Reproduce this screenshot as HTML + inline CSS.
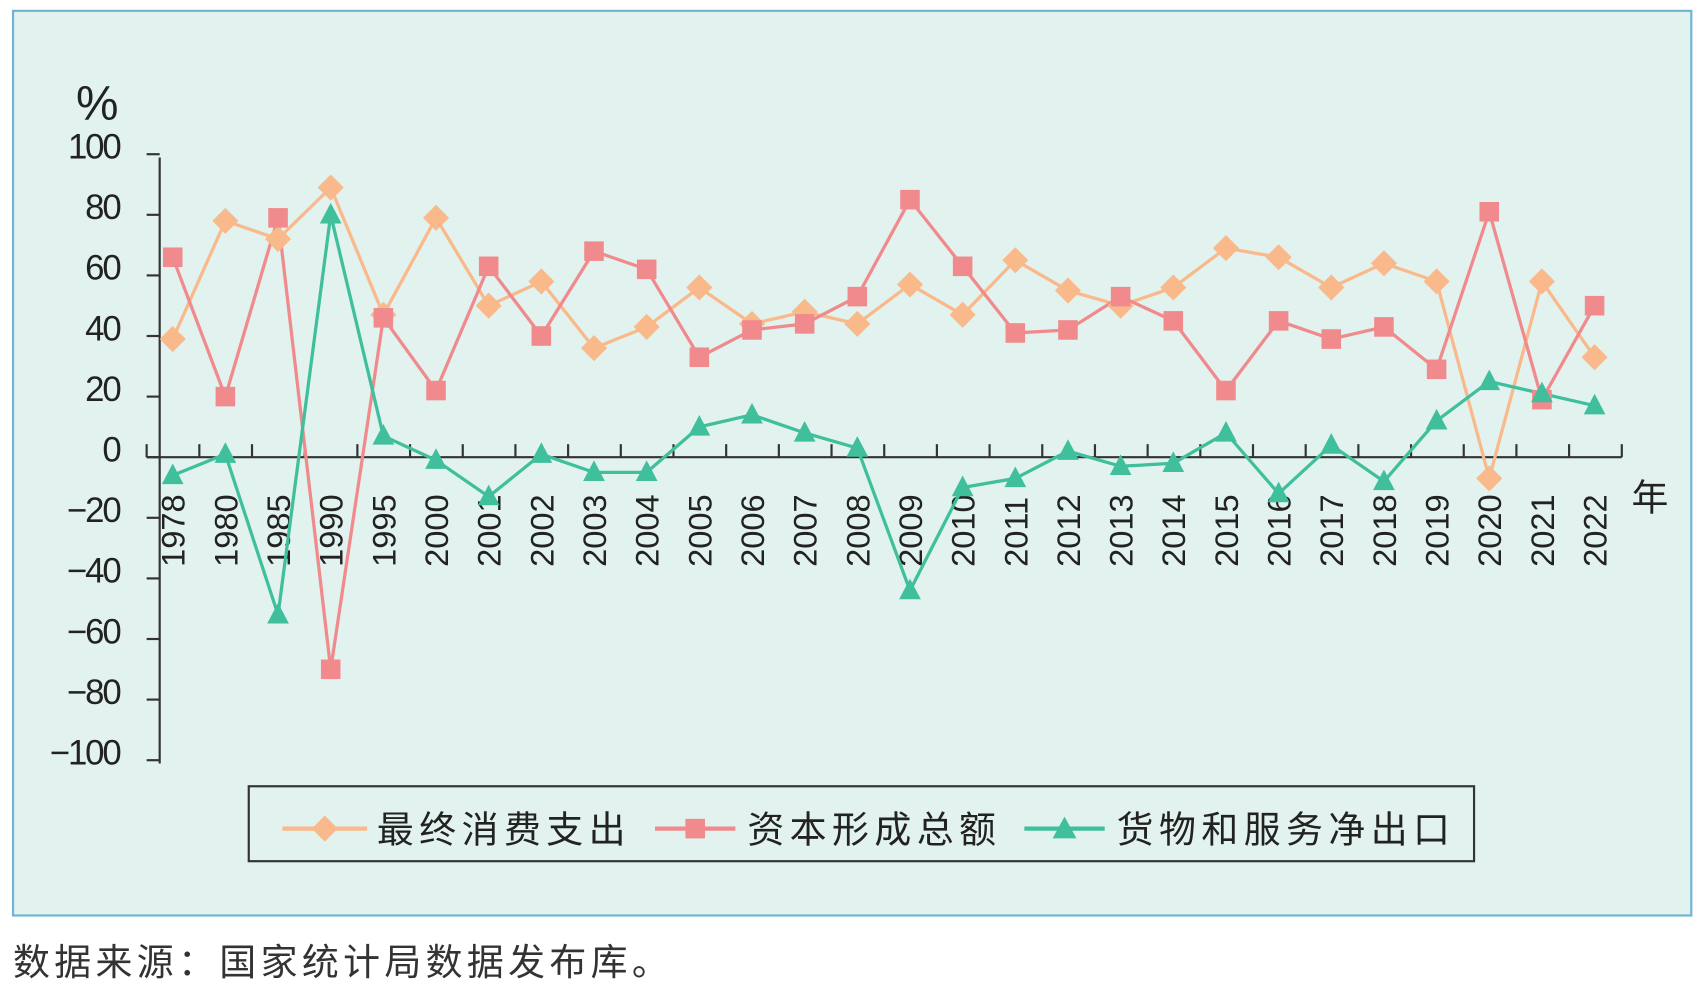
<!DOCTYPE html>
<html><head><meta charset="utf-8"><style>
html,body{margin:0;padding:0;background:#fff;width:1700px;height:985px;overflow:hidden}
svg{display:block}
text{font-family:"Liberation Sans","Noto Sans CJK SC",sans-serif}
</style></head><body>
<svg id="s" width="1700" height="985" viewBox="0 0 1565 907" preserveAspectRatio="none" xmlns="http://www.w3.org/2000/svg">
<rect x="12" y="10" width="1545" height="833" fill="#e2f2ef" stroke="#6fb4d2" stroke-width="2"/>
<text x="70" y="110" font-size="44" fill="#222">%</text>
<g id="g"></g>
<rect x="229" y="724" width="1128" height="69" fill="none" stroke="#333" stroke-width="2"/>
<line x1="260" y1="763" x2="338" y2="763" stroke="#f9b98a" stroke-width="4"/>
<path d="M299 751 L311 763 L299 775 L287 763Z" fill="#f9b98a"/>
<text x="347" y="776" font-size="34" fill="#222" letter-spacing="5">最终消费支出</text>
<line x1="603" y1="763" x2="677" y2="763" stroke="#f08a8c" stroke-width="4"/>
<rect x="631" y="754" width="18" height="18" fill="#f08a8c"/>
<text x="688" y="776" font-size="34" fill="#222" letter-spacing="5">资本形成总额</text>
<line x1="943" y1="763" x2="1017" y2="763" stroke="#3fbf9c" stroke-width="4"/>
<path d="M980 752 L991 772 L969 772Z" fill="#3fbf9c"/>
<text x="1028" y="776" font-size="34" fill="#222" letter-spacing="5">货物和服务净出口</text>
<text x="12" y="898" font-size="34" fill="#333" letter-spacing="4">数据来源：国家统计局数据发布库。</text>
</svg>
<script>
var yrs=[1978,1980,1985,1990,1995,2000,2001,2002,2003,2004,2005,2006,2007,2008,2009,2010,2011,2012,2013,2014,2015,2016,2017,2018,2019,2020,2021,2022];
var c=[39,78,72,89,47,79,50,58,36,43,56,44,48,44,57,47,65,55,50,56,69,66,56,64,58,-7,58,33];
var k=[66,20,79,-70,46,22,63,40,68,62,33,42,44,53,85,63,41,42,53,45,22,45,39,43,29,81,19,50];
var n=[-6,1,-52,80,7,-1,-13,1,-5,-5,10,14,8,3,-44,-10,-7,2,-3,-2,8,-12,4,-8,12,25,21,17];
function X(i){return 159+i*48.48}
function Y(v){return 421-2.79*v}
var h='';
h+='<line x1="147" y1="145" x2="147" y2="703" stroke="#333" stroke-width="2"/>';
for(var v=-100;v<=100;v+=20){var y=Y(v);h+='<line x1="135" y1="'+y+'" x2="147" y2="'+y+'" stroke="#333" stroke-width="2"/>';
h+='<text x="110" y="'+(y+4)+'" font-size="32" fill="#222" text-anchor="end" letter-spacing="-2">'+(v<0?'\u2212'+(-v):v)+'</text>';}
h+='<line x1="135" y1="421" x2="1493" y2="421" stroke="#333" stroke-width="2"/>';
for(var i=0;i<=28;i++){var x=135+i*48.5;h+='<line x1="'+x+'" y1="409" x2="'+x+'" y2="421" stroke="#333" stroke-width="2"/>';}
for(var i=0;i<28;i++){h+='<text transform="translate('+(X(i)+11)+',522) rotate(-90)" font-size="30" fill="#222">'+yrs[i]+'</text>';}
h+='<text x="1502" y="470" font-size="34" fill="#222">年</text>';
function line(d,col){var p=d.map(function(v,i){return X(i)+','+Y(v)}).join(' ');return '<polyline points="'+p+'" fill="none" stroke="'+col+'" stroke-width="3"/>';}
h+=line(c,'#f9b98a')+line(k,'#f08a8c')+line(n,'#3fbf9c');
c.forEach(function(v,i){var x=X(i),y=Y(v);h+='<path d="M'+x+' '+(y-12)+' L'+(x+12)+' '+y+' L'+x+' '+(y+12)+' L'+(x-12)+' '+y+'Z" fill="#f9b98a"/>';});
k.forEach(function(v,i){var x=X(i),y=Y(v);h+='<rect x="'+(x-9)+'" y="'+(y-9)+'" width="18" height="18" fill="#f08a8c"/>';});
n.forEach(function(v,i){var x=X(i),y=Y(v);h+='<path d="M'+x+' '+(y-11)+' L'+(x+10)+' '+(y+8)+' L'+(x-10)+' '+(y+8)+'Z" fill="#3fbf9c"/>';});
document.getElementById('g').innerHTML=h;
</script>
</body></html>
